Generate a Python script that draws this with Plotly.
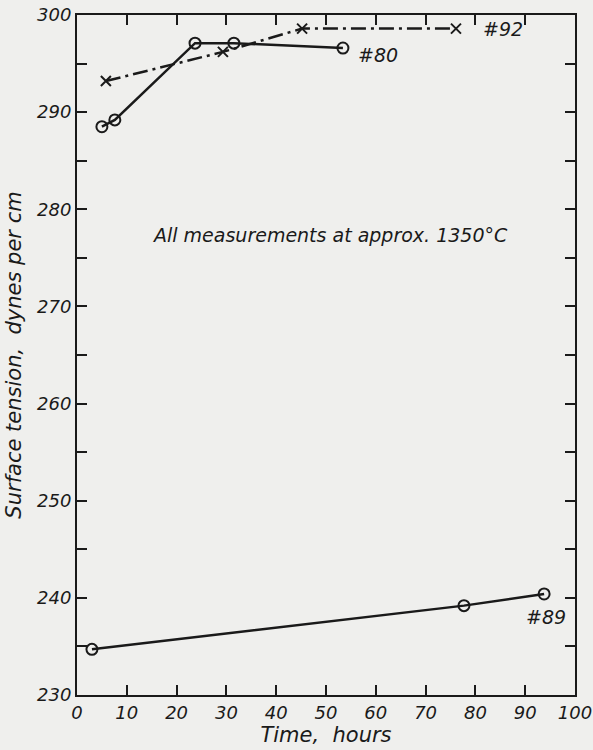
import plotly.graph_objects as go

# Data
s80_x = [5.0, 7.6, 23.7, 31.5, 53.4]
s80_y = [288.5, 289.2, 297.1, 297.1, 296.6]

s92_x = [5.8, 29.3, 45.2, 76.1]
s92_y = [293.2, 296.2, 298.6, 298.6]

s89_x = [3.0, 77.7, 93.8]
s89_y = [234.7, 239.2, 240.4]

labels = ["#80", "#92", "#89"]
label_x = [60.5, 85.5, 94.2]
label_y = [295.9, 298.6, 238.0]

x_ticks = [0, 10, 20, 30, 40, 50, 60, 70, 80, 90, 100]
y_ticks = [230, 240, 250, 260, 270, 280, 290, 300]

FONT = "DejaVu Sans"
ink = "#1a1a1a"

fig = go.Figure()
fig.add_trace(go.Scatter(
    x=s80_x, y=s80_y, mode="lines+markers",
    line=dict(color=ink, width=2.5),
    marker=dict(symbol="circle-open", size=11, color=ink, line=dict(width=2)),
    showlegend=False))
fig.add_trace(go.Scatter(
    x=s92_x, y=s92_y, mode="lines+markers",
    line=dict(color=ink, width=2.5, dash="15px,5px,3px,5px"),
    marker=dict(symbol="x-thin-open", size=10, color=ink, line=dict(width=2, color=ink)),
    showlegend=False))
fig.add_trace(go.Scatter(
    x=s89_x, y=s89_y, mode="lines+markers",
    line=dict(color=ink, width=2.5),
    marker=dict(symbol="circle-open", size=11, color=ink, line=dict(width=2)),
    showlegend=False))

for t, lx, ly in zip(labels, label_x, label_y):
    fig.add_annotation(x=lx, y=ly, text=t, showarrow=False,
                       font=dict(family=FONT, size=19, color=ink, style="italic"))

fig.add_annotation(x=50.8, y=277.4, text="All measurements at approx. 1350°C",
                   showarrow=False,
                   font=dict(family=FONT, size=19, color=ink, style="italic"))

fig.update_layout(
    width=593, height=750,
    margin=dict(l=77, r=18, t=15, b=55),
    paper_bgcolor="#efefed", plot_bgcolor="#efefed",
    font=dict(family=FONT, size=18, color=ink, style="italic"),
)
fig.update_xaxes(
    range=[0, 100], tickvals=x_ticks, ticktext=[str(v) for v in x_ticks],
    ticks="inside", ticklen=10, tickwidth=2, tickcolor=ink,
    showline=True, linewidth=2, linecolor=ink, mirror="ticks",
    showgrid=False, zeroline=False, automargin=False,
    tickfont=dict(family=FONT, size=18, color=ink, style="italic"),
    title=dict(text="Time,  hours", standoff=0,
               font=dict(family=FONT, size=21, color=ink, style="italic")),
)
fig.update_yaxes(
    range=[230, 300], tickvals=y_ticks, ticktext=[str(v) for v in y_ticks],
    ticks="inside", ticklen=10, tickwidth=2, tickcolor=ink,
    minor=dict(dtick=5, tick0=230, ticks="inside", ticklen=10, tickwidth=2, tickcolor=ink),
    showline=True, linewidth=2, linecolor=ink, mirror="ticks",
    showgrid=False, zeroline=False, automargin=False,
    tickfont=dict(family=FONT, size=18, color=ink, style="italic"),
    title=dict(text="Surface tension,  dynes per cm", standoff=10,
               font=dict(family=FONT, size=21, color=ink, style="italic")),
)

fig.write_html("out.html")
